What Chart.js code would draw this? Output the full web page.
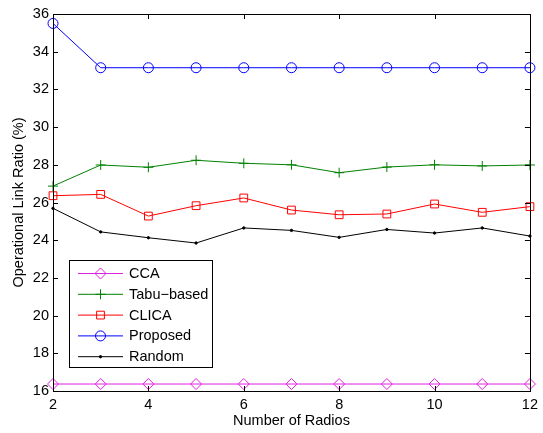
<!DOCTYPE html>
<html>
<head>
<meta charset="utf-8">
<title>Operational Link Ratio vs Number of Radios</title>
<script src="https://cdn.jsdelivr.net/npm/chart.js@4/dist/chart.umd.min.js"></script>
<style>
  html, body { margin: 0; padding: 0; background: #ffffff; }
  canvas { display: block; }
</style>
</head>
<body>
<canvas id="chart" width="543" height="433"></canvas>
<script>
// Number of radios per node
const radios = [2, 3, 4, 5, 6, 7, 8, 9, 10, 11, 12];

// Operational link ratio (%) for each scheme
const ccaValues      = [16.37, 16.37, 16.37, 16.37, 16.37, 16.37, 16.37, 16.37, 16.37, 16.37, 16.37];
const tabuValues     = [26.87, 27.99, 27.87, 28.24, 28.08, 28.00, 27.58, 27.88, 28.00, 27.94, 27.99];
const clicaValues    = [26.36, 26.43, 25.28, 25.83, 26.24, 25.60, 25.35, 25.39, 25.92, 25.48, 25.78];
const proposedValues = [35.50, 33.15, 33.15, 33.15, 33.15, 33.15, 33.15, 33.15, 33.15, 33.15, 33.15];
const randomValues   = [25.69, 24.44, 24.13, 23.85, 24.65, 24.52, 24.15, 24.57, 24.38, 24.65, 24.22];

// Axis tick values
const xTicks = [2, 4, 6, 8, 10, 12];
const yTicks = [16, 18, 20, 22, 24, 26, 28, 30, 32, 34, 36];

const FONT = '"Liberation Sans", Arial, Helvetica, sans-serif';
const FONT_SIZE = 14.5;

function points(values) {
  return values.map((v, i) => ({ x: radios[i], y: v }));
}

function series(label, values, color, style, radius) {
  return {
    label: label,
    data: points(values),
    borderColor: color,
    backgroundColor: 'rgba(0,0,0,0)',
    pointBorderColor: color,
    pointBackgroundColor: style === 'circle' && radius < 2 ? color : 'rgba(0,0,0,0)',
    pointStyle: style,
    pointRadius: radius,
    pointHoverRadius: radius,
    pointBorderWidth: 1,
    borderWidth: 1,
    tension: 0,
    clip: false
  };
}

const datasets = [
  series('CCA', ccaValues, '#e020e0', 'rectRot', 5.5),
  series('Tabu\u2212based', tabuValues, '#008000', 'cross', 5),
  series('CLICA', clicaValues, '#ff0000', 'rect', 5.5),
  series('Proposed', proposedValues, '#0000ff', 'circle', 5),
  series('Random', randomValues, '#000000', 'circle', 1.2)
];

// Box around the plot area with inward tick marks on all four sides
const frame = {
  id: 'frame',
  afterDatasetsDraw(chart) {
    const ctx = chart.ctx;
    const a = chart.chartArea;
    const xs = chart.scales.x, ys = chart.scales.y;
    const len = 5;
    ctx.save();
    ctx.strokeStyle = '#000000';
    ctx.lineWidth = 1;
    ctx.beginPath();
    xTicks.forEach(v => {
      const px = Math.round(xs.getPixelForValue(v)) + 0.5;
      ctx.moveTo(px, a.bottom); ctx.lineTo(px, a.bottom - len);
      ctx.moveTo(px, a.top); ctx.lineTo(px, a.top + len);
    });
    yTicks.forEach(v => {
      const py = Math.round(ys.getPixelForValue(v)) + 0.5;
      ctx.moveTo(a.left, py); ctx.lineTo(a.left + len, py);
      ctx.moveTo(a.right, py); ctx.lineTo(a.right - len, py);
    });
    ctx.stroke();
    ctx.strokeRect(Math.round(a.left) + 0.5, Math.round(a.top) + 0.5,
                   Math.round(a.right - a.left), Math.round(a.bottom - a.top));
    ctx.restore();
  }
};

// Legend box in the lower-left of the plot: line sample, marker, label
const legendBox = {
  id: 'legendBox',
  afterDraw(chart) {
    const ctx = chart.ctx;
    const box = { left: 69.5, top: 260.5, width: 143, height: 107 };
    ctx.save();
    ctx.fillStyle = '#ffffff';
    ctx.fillRect(box.left, box.top, box.width, box.height);
    ctx.strokeStyle = '#000000';
    ctx.lineWidth = 1;
    ctx.strokeRect(box.left, box.top, box.width, box.height);
    ctx.font = FONT_SIZE + 'px ' + FONT;
    ctx.textBaseline = 'middle';
    ctx.textAlign = 'left';
    chart.data.datasets.forEach((ds, i) => {
      const y = 273.5 + i * 20.8;
      ctx.strokeStyle = ds.borderColor;
      ctx.lineWidth = 1;
      ctx.beginPath();
      ctx.moveTo(78, y);
      ctx.lineTo(123, y);
      ctx.stroke();
      ctx.fillStyle = ds.pointBackgroundColor;
      ctx.strokeStyle = ds.pointBorderColor;
      Chart.helpers.drawPoint(ctx, {
        pointStyle: ds.pointStyle,
        radius: ds.pointRadius,
        borderWidth: 1,
        rotation: 0
      }, 100.5, y);
      ctx.fillStyle = '#000000';
      ctx.fillText(ds.label, 129, y + 0.5);
    });
    ctx.restore();
  }
};

new Chart(document.getElementById('chart'), {
  type: 'line',
  data: { datasets: datasets },
  plugins: [frame, legendBox],
  options: {
    responsive: false,
    animation: false,
    events: [],
    layout: { padding: { top: 14, right: 11, left: 0, bottom: 0 } },
    plugins: { legend: { display: false }, tooltip: { enabled: false } },
    scales: {
      x: {
        type: 'linear',
        min: 2,
        max: 12,
        border: { display: false },
        grid: { display: false, drawTicks: false },
        afterBuildTicks(scale) { scale.ticks = xTicks.map(v => ({ value: v })); },
        afterFit(scale) { scale.height = 42; },
        ticks: {
          padding: 5,
          color: '#000000',
          font: { family: FONT, size: FONT_SIZE },
          maxRotation: 0,
          autoSkip: false
        },
        title: {
          display: true,
          text: 'Number of Radios',
          color: '#000000',
          font: { family: FONT, size: FONT_SIZE },
          padding: { top: 0, bottom: 3 }
        }
      },
      y: {
        type: 'linear',
        min: 16,
        max: 36,
        border: { display: false },
        grid: { display: false, drawTicks: false },
        afterBuildTicks(scale) { scale.ticks = yTicks.map(v => ({ value: v })); },
        afterFit(scale) { scale.width = 53; },
        ticks: {
          padding: 4,
          color: '#000000',
          font: { family: FONT, size: FONT_SIZE },
          autoSkip: false
        },
        title: {
          display: true,
          text: 'Operational Link Ratio (%)',
          color: '#000000',
          font: { family: FONT, size: FONT_SIZE },
          padding: { top: 10, bottom: 0 }
        }
      }
    }
  }
});
</script>
</body>
</html>
